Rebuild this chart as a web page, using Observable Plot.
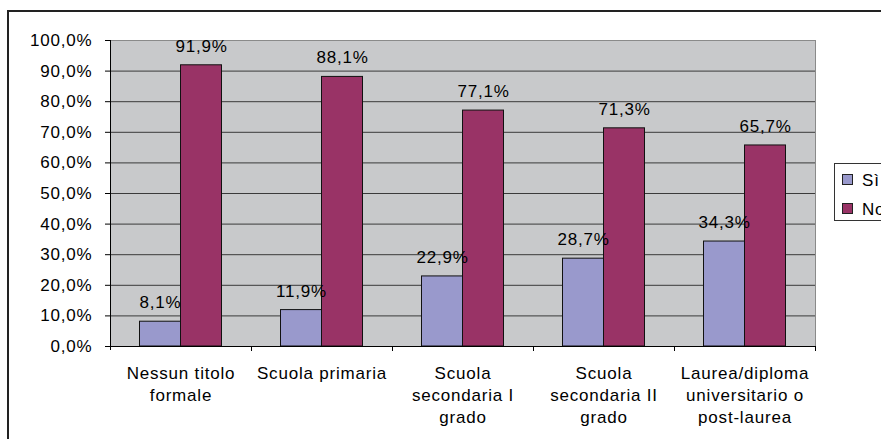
<!DOCTYPE html>
<html>
<head>
<meta charset="utf-8">
<script src="https://cdn.jsdelivr.net/npm/d3@7"></script>
<script src="https://cdn.jsdelivr.net/npm/@observablehq/plot@0.6"></script>
<style>
  html, body { margin: 0; padding: 0; background: #fff; overflow: hidden; }
  #wrap { position: relative; width: 881px; height: 439px; overflow: hidden; font-family: "Liberation Sans", Arial, sans-serif; }
  #border { position: absolute; left: 7px; top: 10px; width: 900px; height: 500px; border: 2px solid #222; box-sizing: border-box; }
  #chart { position: absolute; left: 0; top: 0; }
  #legend { position: absolute; left: 834px; top: 163px; width: 80px; height: 58px; border: 1px solid #333; background: #fff; box-sizing: border-box; }
  .item { position: absolute; left: 7px; font-size: 17px; letter-spacing: 0.8px; color: #000; line-height: 1; }
  .sw { display: inline-block; width: 9px; height: 9px; border: 1px solid #222; margin-right: 9px; vertical-align: 1px; }
</style>
</head>
<body>
<div id="wrap">
  <div id="border"></div>
  <div id="chart"></div>
  <div id="legend"></div>
</div>
<script>
const categories = ["Nessun titolo formale", "Scuola primaria", "Scuola secondaria I grado", "Scuola secondaria II grado", "Laurea/diploma universitario o post-laurea"];
const categoryLabels = ["Nessun titolo\nformale", "Scuola primaria", "Scuola\nsecondaria I\ngrado", "Scuola\nsecondaria II\ngrado", "Laurea/diploma\nuniversitario o\npost-laurea"];
const seriesNames = ["Sì", "No"];
const siValues = [8.1, 11.9, 22.9, 28.7, 34.3];
const noValues = [91.9, 88.1, 77.1, 71.3, 65.7];
const yTicks = [0, 10, 20, 30, 40, 50, 60, 70, 80, 90, 100];
const colors = ["#9999cc", "#993366"];

const fmt = v => v.toFixed(1).replace(".", ",") + "%";
const siData = categories.map((c, i) => ({cat: c, value: siValues[i]}));
const noData = categories.map((c, i) => ({cat: c, value: noValues[i]}));
const labelOf = new Map(categories.map((c, i) => [c, categoryLabels[i]]));

const W = 881, H = 439, ML = 110, MR = 66, MT = 40, MB = 93;
const band = (W - ML - MR) / categories.length;
const barW = 41;
const outer = (band - 2 * barW) / 2;

const chart = Plot.plot({
  width: W, height: H,
  marginLeft: ML, marginRight: MR, marginTop: MT, marginBottom: MB,
  style: {fontFamily: "'Liberation Sans', Arial, sans-serif", fontSize: "17px", letterSpacing: "0.8px", color: "#000", background: "transparent", overflow: "visible"},
  x: {domain: categories, padding: 0, axis: null, label: null},
  y: {domain: [0, 100], axis: null, label: null},
  marks: [
    Plot.frame({fill: "#c8c9cb", stroke: "#8a8a8a"}),
    Plot.ruleY(yTicks.filter(v => v > 0 && v < 100), {stroke: "#3a3a3a", strokeWidth: 1}),
    Plot.barY(siData, {x: "cat", y: "value", fill: colors[0], stroke: "#111", strokeWidth: 1, insetLeft: outer, insetRight: band - outer - barW}),
    Plot.barY(noData, {x: "cat", y: "value", fill: colors[1], stroke: "#111", strokeWidth: 1, insetLeft: outer + barW, insetRight: outer}),
    Plot.ruleY([0], {stroke: "#000"}),
    Plot.ruleX(categories.slice(0, 1), {dx: -band / 2, stroke: "#000", insetBottom: -4}),
    Plot.ruleX(categories, {dx: band / 2, y1: 0, y2: 0, insetBottom: -5, stroke: "#000"}),
    Plot.axisY({ticks: yTicks, tickSize: 5, tickPadding: 13, tickFormat: fmt, stroke: "#000", fill: "#000", label: null}),
    Plot.axisX({tickSize: 0, tickPadding: 17, tickFormat: d => labelOf.get(d), lineHeight: 1.3, fill: "#000", label: null}),
    Plot.text(siData, {x: "cat", y: "value", text: d => fmt(d.value), dx: outer + barW / 2 - band / 2, dy: -19, lineAnchor: "middle", fill: "#000"}),
    Plot.text(noData, {x: "cat", y: "value", text: d => fmt(d.value), dx: outer + barW * 1.5 - band / 2, dy: -19, lineAnchor: "middle", fill: "#000"})
  ]
});
document.getElementById("chart").appendChild(chart);

const legend = document.getElementById("legend");
seriesNames.forEach((name, i) => {
  const item = document.createElement("div");
  item.className = "item";
  item.style.top = (i === 0 ? 8 : 37) + "px";
  const sw = document.createElement("span");
  sw.className = "sw";
  sw.style.background = colors[i];
  item.appendChild(sw);
  item.appendChild(document.createTextNode(name));
  legend.appendChild(item);
});
</script>
</body>
</html>
